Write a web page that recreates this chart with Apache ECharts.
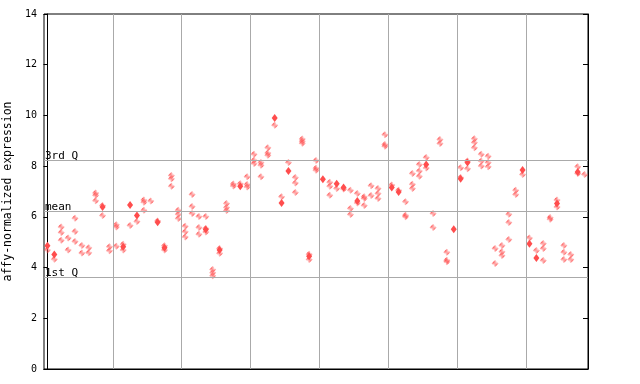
<!DOCTYPE html>
<html><head><meta charset="utf-8">
<script src="https://cdn.jsdelivr.net/npm/echarts@6/dist/echarts.min.js"></script>
<style>html,body{margin:0;padding:0;background:#fff}#c{width:640px;height:384px}</style>
</head><body><div id="c"></div>
<script>
// per-sample values (sample index = array position)
const checkeredValues = [
 [4.69],[4.33],[5.60,5.38,5.08],[5.17,4.69],[5.95,5.42,5.03],[4.87,4.57],[4.78,4.58],[6.94,6.85,6.64],[6.45,6.05],[4.82,4.66],
 [5.69,5.60,4.84],[4.92,4.69],[5.66],[5.82],[6.66,6.58,6.26],[6.63],[5.84],[4.86,4.69],[7.63,7.50,7.21],[6.26,6.10,5.94],
 [5.63,5.41,5.21],[6.88,6.41,6.13],[6.01,5.58,5.31],[6.01,5.54,5.40],[3.92,3.80,3.68],[4.75,4.56],[6.53,6.37,6.25],[7.30,7.22],[7.31],[7.58,7.28,7.18],
 [8.47,8.23,8.10],[8.14,8.04,7.58],[8.73,8.52,8.43],[9.61],[6.79],[8.14],[7.55,7.34,6.96],[9.07,8.98,8.90],[4.53,4.32],[8.22,7.92,7.84],
 [],[7.36,7.21,6.85],[7.12],[7.10],[7.05,6.33,6.09],[6.92,6.55],[6.79,6.72,6.45],[7.23,6.84],[7.12,6.92,6.72],[9.24,8.85,8.78],
 [7.26],[7.05],[6.60,6.06,6.00],[7.71,7.29,7.12],[8.06,7.81,7.60],[8.34,7.93],[6.13,5.58],[9.05,8.89],[4.60,4.29,4.23],[],
 [7.94,7.55],[8.20,7.90],[9.08,8.93,8.73],[8.47,8.20,8.01],[8.39,8.14,7.98],[4.75,4.16],[4.87,4.62,4.48],[6.10,5.78,5.11],[7.05,6.88],[7.67],
 [5.17],[4.67],[4.95,4.75,4.28],[5.97,5.91],[6.66,6.39],[4.87,4.60,4.32],[4.52,4.32],[7.98,7.71],[7.67]
];
const solidValues = [
 [4.86],[4.52],[],[],[],[],[],[],[6.39],[],
 [],[4.82],[6.47],[6.05],[],[],[5.79],[4.78],[],[],
 [],[],[],[5.50],[],[4.69],[],[],[7.21],[],
 [],[],[],[9.90],[6.55],[7.81],[],[],[4.45],[],
 [7.48],[],[7.31],[7.16],[],[6.63],[],[],[],[],
 [7.16],[6.98],[],[],[],[8.06],[],[],[],[5.51],
 [7.50],[8.14],[],[],[],[],[],[],[],[7.85],
 [4.94],[4.38],[],[],[6.53],[],[],[7.77],[]
];
const groupBoundaries = [9.5,19.5,29.5,39.5,49.5,59.5,69.5];
const refLines = [{name:'1st Q', value:3.62},{name:'mean', value:6.22},{name:'3rd Q', value:8.22}];
const yTicks = {min:0, max:14, interval:2};

const RED = '#ff4d4d';
const pat = document.createElement('canvas');
pat.width = 2; pat.height = 2;
const pctx = pat.getContext('2d');
pctx.fillStyle = RED;
pctx.fillRect(0,0,1,1);
pctx.fillRect(1,1,1,1);

function toPoints(arr){
  const out = [];
  arr.forEach((vals,i)=>vals.forEach(v=>out.push([i,v])));
  return out;
}
const N = checkeredValues.length;
const mono = 'DejaVu Sans Mono';

const chart = echarts.init(document.getElementById('c'), null, {renderer:'canvas'});
chart.setOption({
  animation:false,
  grid:{left:44, right:52, top:14, bottom:15, show:true, borderColor:'#000', borderWidth:1, backgroundColor:'transparent', containLabel:false, outerBoundsMode:'none'},
  xAxis:{type:'value', min:-0.5, max:N-0.5, axisLine:{show:true, lineStyle:{color:'#000'}}, axisTick:{show:false}, axisLabel:{show:false}, splitLine:{show:false}},
  yAxis:[
    {type:'value', min:yTicks.min, max:yTicks.max, interval:yTicks.interval,
     name:'affy-normalized expression', nameLocation:'middle', nameGap:22,
     nameTextStyle:{fontFamily:mono, fontSize:11.5, color:'#000'},
     axisLine:{show:true, lineStyle:{color:'#000'}}, axisTick:{show:true, length:4, lineStyle:{color:'#000'}},
     axisLabel:{fontFamily:mono, fontSize:10, color:'#000', margin:7}, splitLine:{show:false}},
    {type:'value', position:'right', min:yTicks.min, max:yTicks.max, interval:yTicks.interval,
     axisLine:{show:true, lineStyle:{color:'#000'}}, axisTick:{show:true, inside:true, length:5, lineStyle:{color:'#000'}},
     axisLabel:{show:false}, splitLine:{show:false}}
  ],
  series:[
    {type:'scatter', data:[], silent:true,
     markLine:{silent:true, symbol:'none', animation:false,
       lineStyle:{color:'#aaaaaa', type:'solid', width:1},
       label:{show:false},
       data: groupBoundaries.map(b=>({xAxis:b}))
         .concat(refLines.map(r=>({yAxis:r.value, name:r.name,
            label:{show:true, position:'insideStartTop', formatter:r.name, fontFamily:mono, fontSize:11, color:'#000', distance:0, padding:0, offset:[1,1]}})))
     }},
    {type:'scatter', symbol:'diamond', symbolSize:[7,7], data:toPoints(checkeredValues),
     itemStyle:{color:{image:pat, repeat:'repeat'}, opacity:1}},
    {type:'scatter', symbol:'diamond', symbolSize:[6,8], data:toPoints(solidValues),
     itemStyle:{color:RED, opacity:1}}
  ]
});
</script></body></html>
